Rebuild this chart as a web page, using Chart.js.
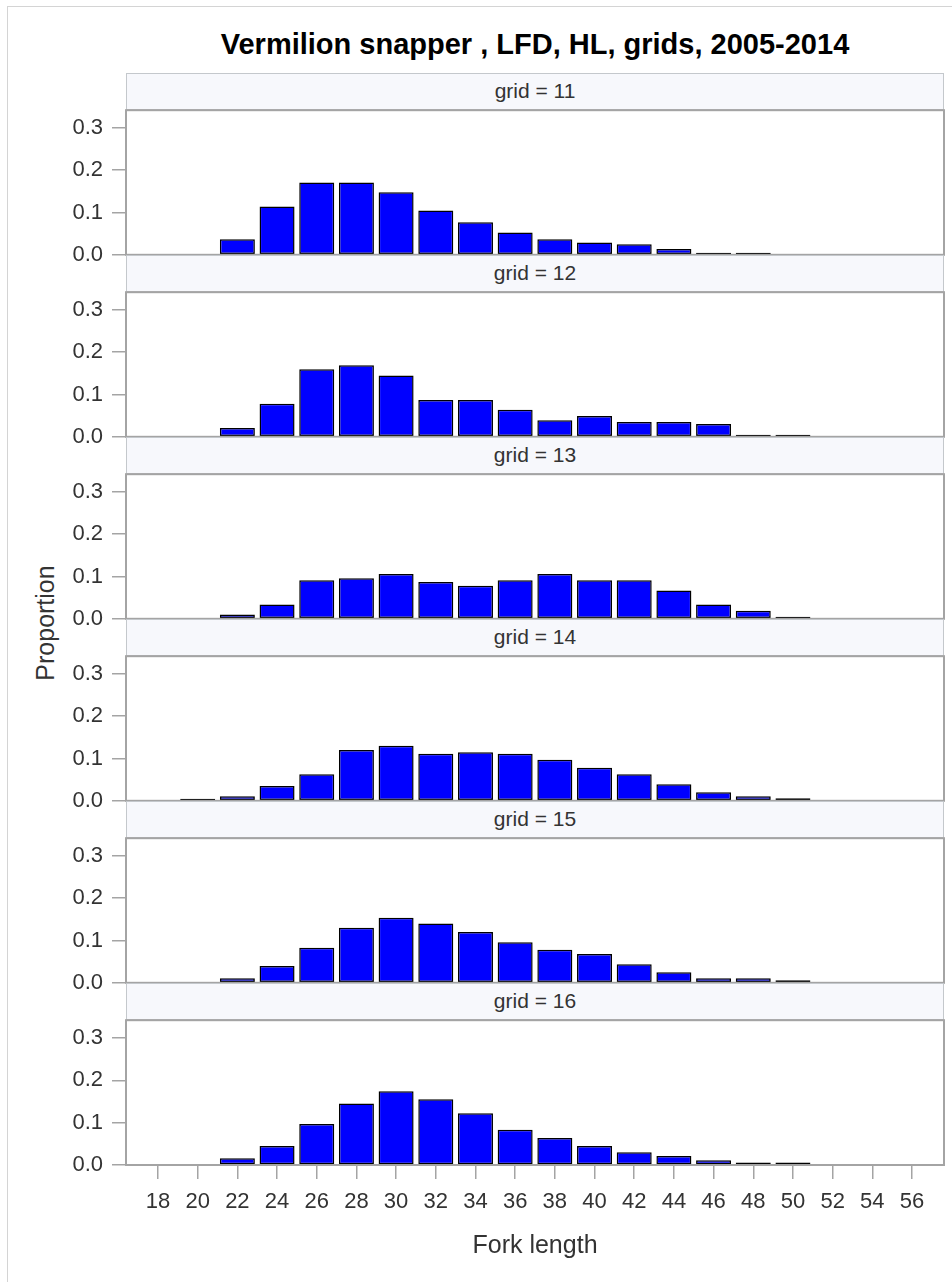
<!DOCTYPE html>
<html><head><meta charset="utf-8">
<script src="https://cdn.jsdelivr.net/npm/chart.js@4/dist/chart.umd.min.js"></script>
<style>
body{margin:0;background:#fff;width:952px;height:1282px;overflow:hidden;position:relative;font-family:"Liberation Sans",Arial,sans-serif;}
#frame{position:absolute;left:7px;top:6px;width:980px;height:1300px;border:1px solid #d4d4d4;}
#title{position:absolute;left:126px;width:818px;top:26px;text-align:center;font-weight:bold;font-size:29px;color:#000;line-height:36px;white-space:nowrap;}
.strip{position:absolute;left:126px;width:818px;height:37px;box-sizing:border-box;background:#f7f8fc;border:1px solid #c4c8cc;text-align:center;font-size:21px;line-height:34px;color:#333;}
#ylab{position:absolute;left:45px;top:623px;transform:translate(-50%,-50%) rotate(-90deg);font-size:25px;color:#333;white-space:nowrap;}
canvas{position:absolute;left:0;}
</style></head>
<body>
<div id="frame"></div>
<div id="title">Vermilion snapper , LFD, HL, grids, 2005-2014</div>
<div id="ylab">Proportion</div>
<div id="panels"></div>
<script>
// ---- data ----
const lengths = [20,22,24,26,28,30,32,34,36,38,40,42,44,46,48,50];
const gridNames = ['11','12','13','14','15','16'];
const grid11 = [null,0.037,0.114,0.171,0.171,0.148,0.105,0.077,0.053,0.037,0.029,0.025,0.014,0.005,0.005,null];
const grid12 = [null,0.021,0.078,0.160,0.169,0.145,0.087,0.087,0.064,0.039,0.049,0.035,0.035,0.030,0.005,0.005];
const grid13 = [null,0.010,0.034,0.091,0.096,0.106,0.087,0.078,0.091,0.106,0.091,0.091,0.067,0.034,0.019,0.005];
const grid14 = [0.005,0.011,0.035,0.063,0.120,0.130,0.111,0.115,0.111,0.097,0.078,0.063,0.039,0.020,0.011,0.006];
const grid15 = [null,0.011,0.040,0.083,0.130,0.154,0.140,0.120,0.096,0.078,0.068,0.044,0.025,0.011,0.011,0.006];
const grid16 = [null,0.016,0.045,0.097,0.145,0.174,0.155,0.122,0.083,0.064,0.045,0.030,0.021,0.011,0.006,0.006];
const xTicks = [18,20,22,24,26,28,30,32,34,36,38,40,42,44,46,48,50,52,54,56];
const yTicks = [0,0.1,0.2,0.3];
const series = [grid11,grid12,grid13,grid14,grid15,grid16];

// ---- layout ----
const XMIN = 16.387, XMAX = 57.613, YMAX = 0.342;
const PITCH = 182, FIRST_HEADER = 73, HEADER_H = 37, PLOT_H = 145, PAD = 16;
const FONT = '"Liberation Sans", Arial, sans-serif';
const AXIS_GRAY = '#a4a4a4';

const framePlugin = {
  id: 'frame',
  afterDatasetsDraw(chart) {
    const a = chart.chartArea, c = chart.ctx;
    c.save();
    c.strokeStyle = AXIS_GRAY; c.lineWidth = 2;
    c.strokeRect(a.left, a.top, a.right - a.left, a.bottom - a.top);
    c.restore();
  }
};

function makeConfig(pts, isLast) {
  return {
    type: 'bar',
    data: { datasets: [{
      data: pts,
      backgroundColor: '#0000ff',
      borderColor: '#000000',
      borderWidth: 1.5,
      borderSkipped: false,
      barPercentage: 0.882,
      categoryPercentage: 1
    }]},
    options: {
      responsive: false, animation: false, devicePixelRatio: 1,
      layout: { padding: { top: PAD, bottom: isLast ? 0 : PAD, left: 0, right: 8 } },
      plugins: { legend: { display: false }, tooltip: { enabled: false } },
      scales: {
        x: {
          type: 'linear', min: XMIN, max: XMAX, offset: false,
          afterBuildTicks: s => { s.ticks = xTicks.map(v => ({value: v})); },
          afterFit: s => { s.height = isLast ? 118 : 0; },
          ticks: { display: isLast, autoSkip: false, maxRotation: 0, padding: 10,
                   color: '#333', font: { family: FONT, size: 22 },
                   callback: v => String(v) },
          grid: { display: isLast, offset: false, drawOnChartArea: false, drawTicks: true, tickLength: 14,
                  color: AXIS_GRAY, lineWidth: 1.5 },
          border: { display: false },
          title: { display: isLast, text: 'Fork length', color: '#333',
                   font: { family: FONT, size: 25 }, padding: { top: 0, bottom: 22 } }
        },
        y: {
          min: 0, max: YMAX,
          afterBuildTicks: s => { s.ticks = yTicks.map(v => ({value: v})); },
          afterFit: s => { s.width = 126; },
          ticks: { padding: 9, color: '#333', font: { family: FONT, size: 22 },
                   callback: v => Number(v).toFixed(1) },
          grid: { drawOnChartArea: false, drawTicks: true, tickLength: 14,
                  color: AXIS_GRAY, lineWidth: 1.5 },
          border: { display: false }
        }
      }
    },
    plugins: [framePlugin]
  };
}

function build(cv, h, pts, isLast) {
  cv.width = 952; cv.height = h;
  cv.style.width = '952px'; cv.style.height = h + 'px';
  return new Chart(cv, makeConfig(pts, isLast));
}

const container = document.getElementById('panels');
series.forEach((vals, i) => {
  const headerTop = FIRST_HEADER + i * PITCH;
  const plotTop = headerTop + HEADER_H;
  const isLast = i === series.length - 1;

  const strip = document.createElement('div');
  strip.className = 'strip';
  strip.style.top = headerTop + 'px';
  strip.textContent = 'grid = ' + gridNames[i];
  container.appendChild(strip);

  const pts = [];
  lengths.forEach((x, j) => { if (vals[j] !== null) pts.push({x: x, y: vals[j]}); });

  // pass 1: measure the space Chart.js reserves around the plot area
  const probe = document.createElement('canvas');
  container.appendChild(probe);
  const h0 = 400;
  let chart = build(probe, h0, pts, isLast);
  const extraTop = chart.chartArea.top;
  const extraBottom = h0 - chart.chartArea.bottom;
  chart.destroy();
  probe.remove();

  // pass 2: real chart sized so the plot area is exactly PLOT_H tall
  const cv = document.createElement('canvas');
  container.appendChild(cv);
  const h = Math.round(extraTop + PLOT_H + extraBottom);
  chart = build(cv, h, pts, isLast);
  cv.style.top = Math.round(plotTop - chart.chartArea.top) + 'px';
});
</script>
</body></html>
